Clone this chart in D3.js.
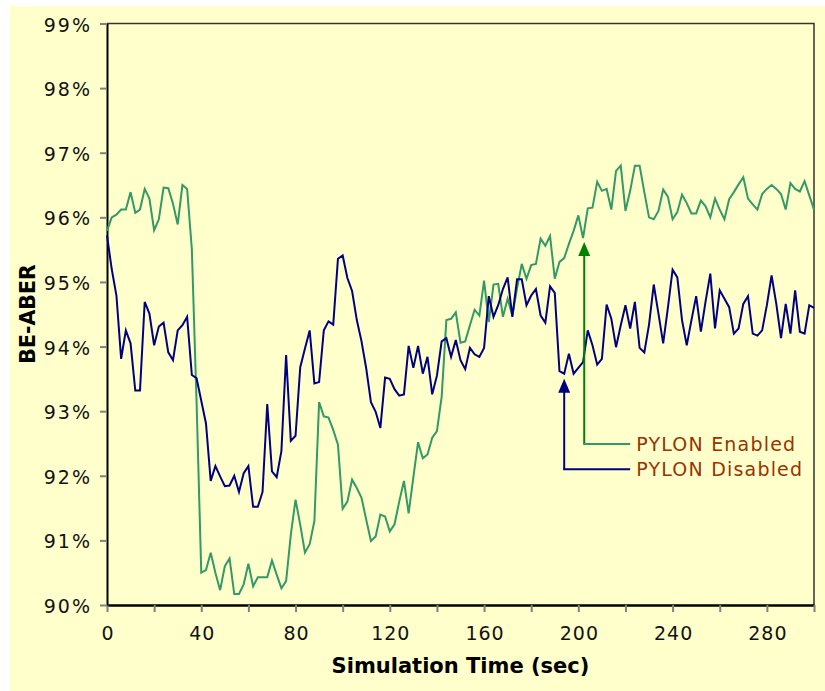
<!DOCTYPE html>
<html>
<head>
<meta charset="utf8">
<title>BE-ABER vs Simulation Time</title>
<style>
  body { margin: 0; background: #fff; }
  svg text { font-family: "DejaVu Sans", Verdana, sans-serif; }
  .axis .domain { stroke: #000; }
  .axis .tick line { stroke: #808080; stroke-width: 2px; }
  .axis .tick text { font-size: 19px; fill: #111; }
</style>
</head>
<body>
<svg width="825" height="691"></svg>
<script src="https://cdnjs.cloudflare.com/ajax/libs/d3/7.8.5/d3.min.js"></script>
<script>
// sample every 2 sec, 0..300
var sampleStep = 2;

var enabled = [
  95.79, 96.00, 96.04, 96.12, 96.12, 96.39, 96.07, 96.12, 96.44, 96.29,
  95.80, 95.97, 96.46, 96.45, 96.21, 95.89, 96.50, 96.44, 95.51, 93.15,
  90.50, 90.54, 90.81, 90.50, 90.23, 90.60, 90.72, 90.17, 90.17, 90.32,
  90.64, 90.29, 90.43, 90.43, 90.43, 90.69, 90.47, 90.26, 90.37, 91.09,
  91.63, 91.24, 90.81, 90.94, 91.30, 93.14, 92.92, 92.90, 92.71, 92.48,
  91.49, 91.60, 91.94, 91.81, 91.66, 91.32, 90.99, 91.06, 91.40, 91.37,
  91.14, 91.25, 91.60, 91.92, 91.42, 91.98, 92.52, 92.27, 92.33, 92.59,
  92.69, 93.22, 94.41, 94.43, 94.53, 94.06, 94.08, 94.33, 94.57, 94.48,
  95.02, 94.38, 94.96, 94.97, 94.46, 94.74, 94.48, 94.90, 95.28, 95.05,
  95.26, 95.28, 95.67, 95.56, 95.71, 95.05, 95.31, 95.37, 95.59, 95.79,
  96.03, 95.68, 96.14, 96.15, 96.55, 96.41, 96.44, 96.12, 96.72, 96.80,
  96.10, 96.41, 96.80, 96.80, 96.39, 96.00, 95.97, 96.10, 96.43, 96.32,
  95.97, 96.08, 96.35, 96.22, 96.06, 96.06, 96.26, 96.17, 96.00, 96.29,
  96.12, 95.97, 96.28, 96.39, 96.51, 96.62, 96.29, 96.20, 96.12, 96.36,
  96.44, 96.50, 96.44, 96.36, 96.12, 96.53, 96.44, 96.40, 96.56, 96.34,
  96.12
];

var disabled = [
  95.72, 95.20, 94.79, 93.81, 94.25, 94.05, 93.32, 93.32, 94.69, 94.51,
  94.02, 94.31, 94.37, 93.91, 93.79, 94.25, 94.33, 94.46, 93.56, 93.51,
  93.16, 92.81, 91.92, 92.15, 91.99, 91.84, 91.85, 92.00, 91.75, 92.04,
  92.15, 91.52, 91.52, 91.75, 93.11, 92.07, 91.98, 92.38, 93.87, 92.54,
  92.62, 93.68, 93.97, 94.25, 93.43, 93.45, 94.25, 94.39, 94.34, 95.36,
  95.41, 95.06, 94.86, 94.41, 94.08, 93.66, 93.14, 92.99, 92.74, 93.52,
  93.50, 93.34, 93.24, 93.26, 94.01, 93.67, 94.01, 93.58, 93.84, 93.26,
  93.55, 94.08, 94.13, 93.84, 94.10, 93.79, 93.65, 93.98, 93.88, 93.84,
  93.98, 94.78, 94.46, 94.64, 94.89, 95.07, 94.46, 95.04, 95.04, 94.64,
  94.79, 94.89, 94.48, 94.37, 94.93, 94.83, 93.62, 93.58, 93.89, 93.58,
  93.67, 93.76, 94.25, 94.02, 93.72, 93.81, 94.65, 94.43, 93.99, 94.33,
  94.64, 94.28, 94.69, 93.98, 93.91, 94.34, 94.96, 94.51, 94.05, 94.60,
  95.19, 95.07, 94.41, 94.02, 94.41, 94.78, 94.23, 94.70, 95.13, 94.28,
  94.87, 94.74, 94.61, 94.20, 94.28, 94.66, 94.78, 94.20, 94.17, 94.25,
  94.64, 95.10, 94.66, 94.13, 94.66, 94.20, 94.87, 94.23, 94.20, 94.64,
  94.60
];

var xTicks = [0, 20, 40, 60, 80, 100, 120, 140, 160, 180, 200, 220, 240, 260, 280, 300];
var xLabels = [0, 40, 80, 120, 160, 200, 240, 280];
var yTicks = [90, 91, 92, 93, 94, 95, 96, 97, 98, 99];

// callouts: arrow at time t pointing up to value tip, elbow down to value elbow, then right to time end
var callouts = [
  {label: "PYLON Enabled",  t: 202.5, tip: 95.62, elbow: 92.49, end: 222, arrow: "#008000", leader: "#339966"},
  {label: "PYLON Disabled", t: 194.0, tip: 93.50, elbow: 92.10, end: 222, arrow: "#000080", leader: "#000080"}
];
</script>
<script>
var svg = d3.select("svg");

svg.append("rect")
    .attr("x", 10).attr("y", 6)
    .attr("width", 815).attr("height", 685)
    .attr("fill", "#ffffcc");

var x = d3.scaleLinear().domain([0, 300]).range([107, 814]);
var y = d3.scaleLinear().domain([90, 99]).range([605, 23.5]);

// top / right frame
svg.append("path")
    .attr("d", "M" + x(0) + "," + y(99) + "H" + x(300) + "V" + y(90))
    .attr("fill", "none")
    .attr("stroke", "#333")
    .attr("stroke-width", 1.5);

var xAxis = svg.append("g")
    .attr("class", "axis")
    .attr("transform", "translate(0," + y(90) + ")")
    .call(d3.axisBottom(x)
        .tickValues(xTicks)
        .tickSizeInner(7).tickSizeOuter(0)
        .tickPadding(15)
        .tickFormat(function(d) { return xLabels.indexOf(d) >= 0 ? d : ""; }));
xAxis.select(".domain").attr("stroke-width", 2.5);
xAxis.selectAll(".tick text").attr("letter-spacing", "1px").attr("dx", "0.5px");

var yAxis = svg.append("g")
    .attr("class", "axis")
    .attr("transform", "translate(" + x(0) + ",0)")
    .call(d3.axisLeft(y)
        .tickValues(yTicks)
        .tickSizeInner(7).tickSizeOuter(0)
        .tickPadding(8)
        .tickFormat(function(d) { return d + "%"; }));
yAxis.select(".domain").attr("stroke-width", 2);
yAxis.selectAll(".tick text").attr("dy", "0.40em").attr("letter-spacing", "2px");

var line = d3.line()
    .x(function(d, i) { return x(i * sampleStep); })
    .y(function(d) { return y(d); });

svg.append("path")
    .datum(enabled)
    .attr("d", line)
    .attr("fill", "none")
    .attr("stroke", "#339966")
    .attr("stroke-width", 2);

svg.append("path")
    .datum(disabled)
    .attr("d", line)
    .attr("fill", "none")
    .attr("stroke", "#000080")
    .attr("stroke-width", 2);

// callout arrows and labels
callouts.forEach(function(c) {
    var cx = x(c.t), tipY = y(c.tip), elbowY = y(c.elbow);
    svg.append("line")
        .attr("x1", cx).attr("y1", elbowY)
        .attr("x2", cx).attr("y2", tipY + 12)
        .attr("stroke", c.arrow).attr("stroke-width", 2);
    svg.append("path")
        .attr("d", "M" + cx + "," + tipY + "L" + (cx - 6) + "," + (tipY + 14) + "L" + (cx + 6) + "," + (tipY + 14) + "Z")
        .attr("fill", c.arrow);
    svg.append("line")
        .attr("x1", cx - 1).attr("y1", elbowY)
        .attr("x2", x(c.end)).attr("y2", elbowY)
        .attr("stroke", c.leader).attr("stroke-width", 2);
    svg.append("text")
        .attr("x", x(c.end) + 6)
        .attr("y", elbowY + 7)
        .attr("font-size", "19px")
        .attr("letter-spacing", "1.2px")
        .attr("fill", "#993300")
        .text(c.label);
});

svg.append("text")
    .attr("x", (x(0) + x(300)) / 2)
    .attr("y", 673)
    .attr("text-anchor", "middle")
    .attr("font-size", "21px")
    .attr("font-weight", "bold")
    .text("Simulation Time (sec)");

svg.append("text")
    .attr("transform", "translate(28," + 314 + ") rotate(-90)")
    .attr("text-anchor", "middle")
    .attr("dy", "0.36em")
    .attr("font-size", "20.5px")
    .attr("font-weight", "bold")
    .text("BE-ABER");
</script>
</body>
</html>
